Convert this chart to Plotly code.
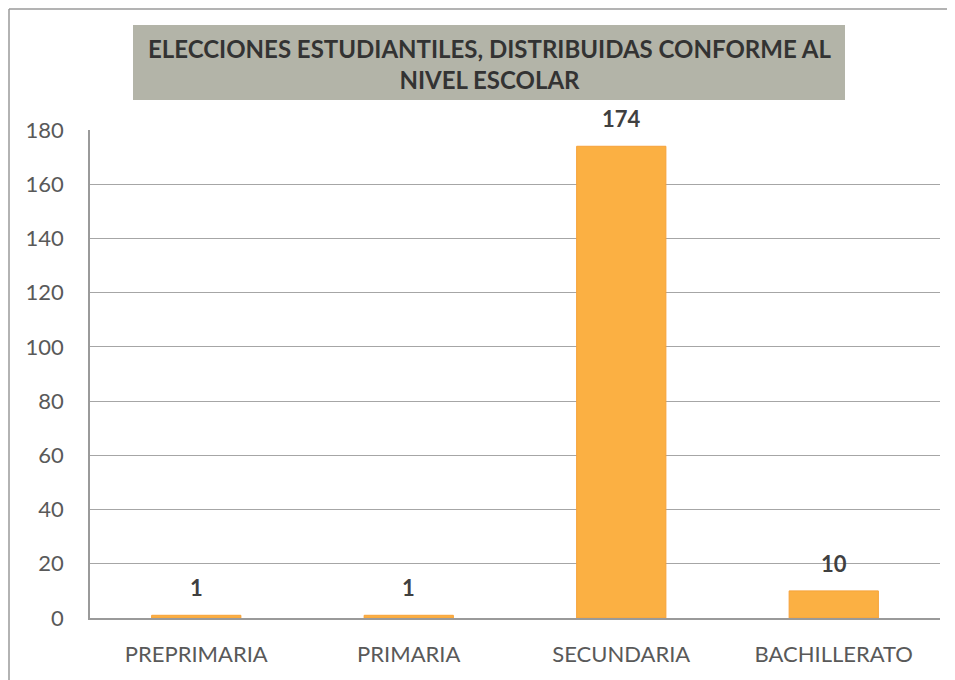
import plotly.graph_objects as go

categories = ["PREPRIMARIA", "PRIMARIA", "SECUNDARIA", "BACHILLERATO"]
values = [1, 1, 174, 10]
y_ticks = [0, 20, 40, 60, 80, 100, 120, 140, 160, 180]
title_lines = ["ELECCIONES ESTUDIANTILES, DISTRIBUIDAS CONFORME AL", "NIVEL ESCOLAR"]

# page places the figure 8px from the top-left corner
OFF = 8
W, H = 955 - OFF, 680 - OFF
ML, MR, MT, MB = 90 - OFF, 15, 130 - OFF, 62
PW, PH = W - ML - MR, H - MT - MB

def px(x):
    return (x - OFF - ML) / PW

def py(y):
    return (H - MB - (y - OFF)) / PH

fig = go.Figure()
fig.add_trace(go.Bar(
    x=categories, y=values,
    width=0.42,
    marker=dict(color="#FBB043", line=dict(color="#F6A23A", width=1)),
    hoverinfo="x+y",
))

annotations = [
    dict(x=c, y=v, xref="x", yref="y", text="<b>%d</b>" % v, showarrow=False,
         yanchor="bottom", yshift=12,
         font=dict(family="Lato", size=22, color="#404040"))
    for c, v in zip(categories, values)
]
annotations.append(
    dict(text="<b>" + title_lines[0] + "<br>" + title_lines[1] + "</b>",
         xref="paper", yref="paper", x=px(489), y=py(64),
         xanchor="center", yanchor="middle", showarrow=False,
         font=dict(family="Lato", size=24, color="#333333"))
)

fig.update_layout(
    width=W, height=H,
    margin=dict(l=ML, r=MR, t=MT, b=MB),
    paper_bgcolor="white", plot_bgcolor="white",
    showlegend=False,
    bargap=0.58,
    font=dict(family="Lato", color="#595959"),
    xaxis=dict(
        showline=True, linecolor="#9a9a9a", linewidth=1.5,
        showgrid=False, ticks="", tickfont=dict(size=22, color="#595959"),
        ticklabelstandoff=16,
    ),
    yaxis=dict(
        range=[0, 180], tickvals=y_ticks, showgrid=True, gridcolor="#a6a6a6", gridwidth=1,
        showline=True, linecolor="#9a9a9a", linewidth=1.5, ticks="",
        tickfont=dict(size=22, color="#595959"), zeroline=False,
        ticklabelstandoff=20,
    ),
    shapes=[
        dict(type="line", xref="paper", yref="paper",
             x0=px(9), x1=px(960), y0=py(9), y1=py(9),
             line=dict(color="#9a9a9a", width=1.5), layer="below"),
        dict(type="line", xref="paper", yref="paper",
             x0=px(9), x1=px(9), y0=py(9), y1=py(700),
             line=dict(color="#9a9a9a", width=1.5), layer="below"),
        dict(type="rect", xref="paper", yref="paper",
             x0=px(133), x1=px(845), y0=py(100), y1=py(25),
             line=dict(width=0), fillcolor="#B3B4A8", layer="below"),
    ],
    annotations=annotations,
)

fig.write_html("out.html")
